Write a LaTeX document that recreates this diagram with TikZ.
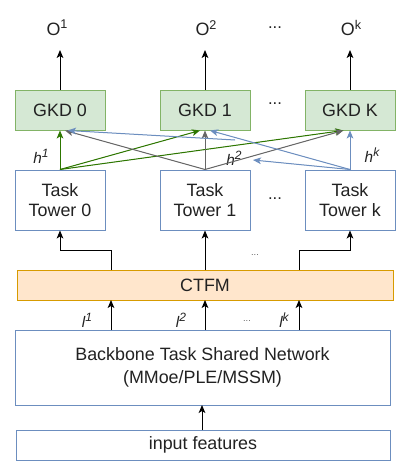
\documentclass[tikz,border=0pt]{standalone}
\usepackage{fontspec}
\setmainfont{Liberation Sans}
\usetikzlibrary{arrows.meta}
\definecolor{bstroke}{HTML}{6C8EBF}
\definecolor{gfill}{HTML}{D5E8D4}
\definecolor{gstroke}{HTML}{82B366}
\definecolor{ofill}{HTML}{FFE6CC}
\definecolor{ostroke}{HTML}{D79B00}
\definecolor{gline}{HTML}{2D7600}
\definecolor{grayline}{HTML}{666666}
\definecolor{txt}{HTML}{222222}
\newcommand\mysup[2]{\raisebox{#1}{\fontsize{#2}{#2}\selectfont}}
\newcommand\upper[1]{\raisebox{5pt}{\fontsize{9.5}{9.5}\selectfont #1}}
\newcommand\upperi[1]{\raisebox{4.5pt}{\fontsize{9}{9}\selectfont\itshape #1}}
\tikzset{
  base/.style={draw, line width=0.75pt, inner sep=0pt, align=center, text=txt,
    font=\fontsize{13.4}{16}\selectfont},
  gkd/.style={base, fill=gfill, draw=gstroke, minimum width=67.5pt, minimum height=30pt},
  tower/.style={base, fill=white, draw=bstroke, minimum width=67.5pt, minimum height=45pt},
  wide/.style={base, fill=white, draw=bstroke},
  arr/.style={line width=0.75pt, -{Stealth[length=6pt,width=5pt,inset=1.5pt]}},
  lbl/.style={inner sep=0pt, text=txt, font=\fontsize{11.5}{13}\selectfont\itshape},
  outl/.style={inner sep=0pt, text=txt, font=\fontsize{13.4}{15}\selectfont},
  dots/.style={inner sep=0pt, text=txt, font=\fontsize{12.5}{15}\selectfont},
  smalldots/.style={inner sep=0pt, text=grayline, font=\fontsize{7}{8}\selectfont},
}
\begin{document}
\begin{tikzpicture}[x=0.75pt,y=-0.75pt]
\useasboundingbox (0,0) rectangle (410,461);
% top outputs
\node[outl] (o1) at (57,28) {O\upper{1}};
\node[outl] (o2) at (206,28) {O\upper{2}};
\node[dots] (od) at (275,28) {...};
\node[outl] (ok) at (351,28) {O\upper{k}};
% GKD
\node[gkd] (g0) at (60,110) {GKD 0};
\node[gkd] (g1) at (205,110) {GKD 1};
\node[gkd] (gk) at (350,110) {GKD K};
\node[dots] (gd) at (275,104) {...};
% towers
\node[tower] (t0) at (60,200) {Task\\[-1pt]Tower 0};
\node[tower] (t1) at (205,200) {Task\\[-1pt]Tower 1};
\node[tower] (tk) at (350,200) {Task\\[-1pt]Tower k};
\node[dots] (td) at (275,199) {...};
% CTFM
\node[base, fill=ofill, draw=ostroke, minimum width=282pt, minimum height=22.5pt] (ctfm) at (205,285) {CTFM};
% backbone
\node[wide, minimum width=281.25pt, minimum height=56.25pt] (bb) at (202.5,367.5) {Backbone Task Shared Network\\[1pt](MMoe/PLE/MSSM)};
\node[wide, minimum width=280.5pt, minimum height=22.5pt] (inp) at (203,445) {input features};
% output arrows
\coordinate (o1b) at (60,50);
\coordinate (o2b) at (205,50);
\coordinate (okb) at (350,50);
\draw[arr] (g0.north) -- (o1b);
\draw[arr] (g1.north) -- (o2b);
\draw[arr] (gk.north) -- (okb);
% labels h
\node[lbl] (h1) at (41,156) {h\upperi{1}};
\node[lbl] (h2) at (234,158) {h\upperi{2}};
\node[lbl] (hk) at (372,155) {h\upperi{k}};
% cross connections
\draw[arr, draw=gline, fill=gline] (t0.north) -- (g0.south);
\draw[arr, draw=gline, fill=gline] (t0.north) -- ([xshift=-3.75pt]g1.south);
\draw[arr, draw=gline, fill=gline] (t0.north) -- ([xshift=-5pt]gk.south);
\draw[arr, draw=grayline, fill=grayline] (t1.north) -- ([xshift=3.75pt]g0.south);
\draw[arr, draw=grayline, fill=grayline] (t1.north) -- (g1.south);
\draw[arr, draw=grayline, fill=grayline] (t1.north) -- ([xshift=-5pt]gk.south);
\coordinate (bm1) at (253,160);
\coordinate (bm2) at (235,140);
\draw[arr, draw=bstroke, fill=bstroke] (tk.north) -- (gk.south);
\draw[arr, draw=bstroke, fill=bstroke] (tk.north) -- ([xshift=3.75pt]g1.south);
\draw[arr, draw=bstroke, fill=bstroke] (tk.north) -- (bm1);
\draw[arr, draw=bstroke, fill=bstroke] (bm2) -- ([xshift=6pt]g0.south);
% CTFM to towers
\coordinate (c1) at (111,270);
\coordinate (c2) at (205,270);
\coordinate (c3) at (299,270);
\draw[arr] (c1) -- (111,250) -| (t0.south);
\draw[arr] (c2) -- (t1.south);
\draw[arr] (c3) -- (299,250) -| (tk.south);
\node[smalldots] (cd) at (255,255) {...};
% backbone to CTFM
\coordinate (b1) at (111,330);
\coordinate (b2) at (205,330);
\coordinate (b3) at (299,330);
\coordinate (e1) at (111,300);
\coordinate (e2) at (205,300);
\coordinate (e3) at (299,300);
\draw[arr] (b1) -- (e1);
\draw[arr] (b2) -- (e2);
\draw[arr] (b3) -- (e3);
\node[lbl] (l1) at (87,320) {l\upperi{1}};
\node[lbl] (l2) at (181,320) {l\upperi{2}};
\node[smalldots] (ld) at (247,321) {...};
\node[lbl] (lk) at (284,320) {l\upperi{k}};
% input to backbone
\coordinate (ib) at (202,405);
\draw[arr] (inp.north -| ib) -- (ib);
\end{tikzpicture}
\end{document}
